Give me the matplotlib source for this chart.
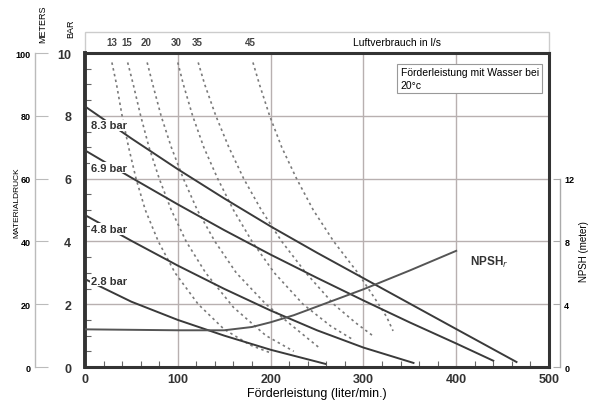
import matplotlib
matplotlib.use('Agg')
import matplotlib.pyplot as plt
from matplotlib.patches import Rectangle

plt.rcParams['font.family'] = ['Liberation Sans Narrow', 'Liberation Sans', 'DejaVu Sans']

# Druckkurven (Förderleistung l/min, Druck bar)
p83_x = [0, 50, 100, 150, 200, 250, 300, 350, 400, 465]
p83_y = [8.3, 7.28, 6.3, 5.37, 4.48, 3.64, 2.83, 2.02, 1.21, 0.16]
p69_x = [0, 50, 100, 150, 200, 250, 300, 350, 400, 440]
p69_y = [6.9, 6.03, 5.18, 4.36, 3.58, 2.84, 2.12, 1.42, 0.75, 0.2]
p48_x = [0, 50, 100, 150, 200, 250, 300, 354]
p48_y = [4.84, 4.02, 3.23, 2.49, 1.8, 1.17, 0.62, 0.13]
p28_x = [0, 50, 100, 150, 200, 259]
p28_y = [2.8, 2.08, 1.5, 1.0, 0.55, 0.1]
pressure_labels = ['8.3 bar', '6.9 bar', '4.8 bar', '2.8 bar']
pressure_label_y = [7.7, 6.35, 4.4, 2.75]

# Luftverbrauch (l/s)
air_labels = ['13', '15', '20', '30', '35', '45']
air_label_x = [29, 45, 66, 98, 121, 178]
a13_x = [29, 34, 40, 47, 55, 65, 79, 97, 122, 150, 178, 200]
a13_y = [9.7, 9, 8, 7, 6, 5, 4, 3, 2, 1.2, 0.7, 0.45]
a15_x = [46, 52, 60, 69, 80, 93, 109, 130, 160, 195, 225]
a15_y = [9.7, 9, 8, 7, 6, 5, 4, 3, 1.9, 1.0, 0.5]
a20_x = [67, 73, 82, 93, 106, 121, 140, 163, 195, 228, 253]
a20_y = [9.7, 9, 8, 7, 6, 5, 4, 3, 2, 1.2, 0.6]
a30_x = [100, 106, 116, 128, 143, 160, 180, 204, 235, 265, 290]
a30_y = [9.7, 9, 8, 7, 6, 5, 4, 3, 2, 1.3, 0.85]
a35_x = [122, 129, 141, 155, 171, 190, 212, 238, 268, 292, 310]
a35_y = [9.7, 9, 8, 7, 6, 5, 4, 3, 2, 1.4, 1.0]
a45_x = [181, 188, 199, 212, 228, 246, 268, 294, 312, 325, 332]
a45_y = [9.7, 9, 8, 7, 6, 5, 4, 3, 2.2, 1.6, 1.15]

# NPSHr (meter)
npsh_x = [0, 100, 150, 180, 200, 225, 250, 300, 350, 400]
npsh_y = [2.4, 2.34, 2.34, 2.55, 2.85, 3.3, 3.85, 4.95, 6.15, 7.4]

fig = plt.figure(figsize=(5.96, 4.10), dpi=100)
ax = fig.add_axes([0.1426, 0.1024, 0.7785, 0.7658])
ax.set_xlim(0, 500)
ax.set_ylim(0, 10)

# Gitter
for gx in [100, 200, 300, 400]:
    ax.axvline(gx, color='#b8b0b0', lw=1, zorder=1)
for gy in [2, 4, 6, 8]:
    ax.axhline(gy, color='#b8b0b0', lw=1, zorder=1)

dash_col = '#7a7a7a'
for xs, ys in [(a13_x, a13_y), (a15_x, a15_y), (a20_x, a20_y),
               (a30_x, a30_y), (a35_x, a35_y), (a45_x, a45_y)]:
    ax.plot(xs, ys, color=dash_col, lw=1.2, linestyle=(0, (1.5, 2.0)), zorder=2)

for xs, ys in [(p83_x, p83_y), (p69_x, p69_y), (p48_x, p48_y), (p28_x, p28_y)]:
    ax.plot(xs, ys, color='#3a3a3a', lw=1.4, zorder=3)

for lab, ly in zip(pressure_labels, pressure_label_y):
    ax.text(6, ly, lab, fontsize=8, fontweight='bold', color='#333333',
            ha='left', va='center', zorder=4,
            bbox=dict(facecolor='white', edgecolor='none', pad=0.5))

# Rahmen
for s in ax.spines.values():
    s.set_linewidth(2.2)
    s.set_color('#333333')
ax.spines['left'].set_linewidth(2.8)

ax.set_xticks([0, 100, 200, 300, 400, 500])
ax.set_xticks(range(0, 501, 20), minor=True)
ax.set_yticks(range(0, 11, 2))
ax.set_yticks([i * 0.5 for i in range(21)], minor=True)
ax.tick_params(axis='both', which='major', direction='in', length=0,
               labelsize=9, colors='#333333', pad=4)
ax.tick_params(axis='both', which='minor', direction='in', length=4,
               color='#666666', width=0.8)
ax.tick_params(axis='y', which='major', pad=10)
for t in ax.get_xticklabels() + ax.get_yticklabels():
    t.set_fontweight('bold')
ax.set_xlabel('Förderleistung (liter/min.)', fontsize=9, labelpad=2)

# Meter-Achse links
ax_m = ax.twinx()
ax_m.set_ylim(0, 100)
ax_m.spines['left'].set_visible(True)
ax_m.spines['left'].set_position(('outward', 36))
ax_m.spines['left'].set_color('#bbbbbb')
ax_m.spines['left'].set_linewidth(1)
for s in ['right', 'top', 'bottom']:
    ax_m.spines[s].set_visible(False)
ax_m.yaxis.set_ticks_position('left')
ax_m.set_yticks(range(0, 101, 20))
ax_m.tick_params(axis='y', direction='in', length=9, color='#bbbbbb',
                 labelsize=6.5, pad=3)
for t in ax_m.get_yticklabels():
    t.set_fontweight('bold')

# NPSH-Achse rechts
ax_n = ax.twinx()
ax_n.set_ylim(0, 20)
ax_n.plot(npsh_x, npsh_y, color='#555555', lw=1.4, zorder=3)
for s in ['left', 'top', 'bottom']:
    ax_n.spines[s].set_visible(False)
ax_n.spines['right'].set_position(('outward', 8))
ax_n.spines['right'].set_bounds(0, 12)
ax_n.spines['right'].set_color('#aaaaaa')
ax_n.spines['right'].set_linewidth(1)
ax_n.set_yticks([0, 4, 8, 12])
ax_n.tick_params(axis='y', direction='in', length=5, color='#aaaaaa',
                 labelsize=6.5, pad=3)
for t in ax_n.get_yticklabels():
    t.set_fontweight('bold')
ax_n.set_ylabel('NPSH (meter)', fontsize=7, rotation=90)
ax_n.yaxis.set_label_coords(1.065, 0.37)
ax.text(415, 3.35, 'NPSH$_r$', fontsize=8.5, fontweight='bold', color='#333333',
        ha='left', va='center')

# Luftverbrauch-Leiste oben
band = Rectangle((0, 1.0), 1.0, 0.067, transform=ax.transAxes, fill=False,
                 edgecolor='#cccccc', lw=1, clip_on=False)
ax.add_patch(band)
for lab, lx in zip(air_labels, air_label_x):
    ax.text(lx, 1.034, lab, transform=ax.get_xaxis_transform(), fontsize=7,
            fontweight='bold', color='#444444', ha='center', va='center')
ax.text(0.672, 1.034, 'Luftverbrauch in l/s', transform=ax.transAxes,
        fontsize=7.5, ha='center', va='center')

ax.text(0.68, 0.955, 'Förderleistung mit Wasser bei\n20°c', transform=ax.transAxes,
        fontsize=7.5, ha='left', va='top', linespacing=1.4,
        bbox=dict(facecolor='white', edgecolor='#999999', lw=0.8,
                  boxstyle='square,pad=0.3'))

# Achsentitel links
fig.text(0.072, 0.94, 'METERS', rotation=90, fontsize=6.5, ha='center', va='center')
fig.text(0.118, 0.93, 'BAR', rotation=90, fontsize=6.5, ha='center', va='center')
fig.text(0.028, 0.505, 'MATERIALDRUCK', rotation=90, fontsize=6, ha='center', va='center')

fig.savefig('out.png', dpi=100)
